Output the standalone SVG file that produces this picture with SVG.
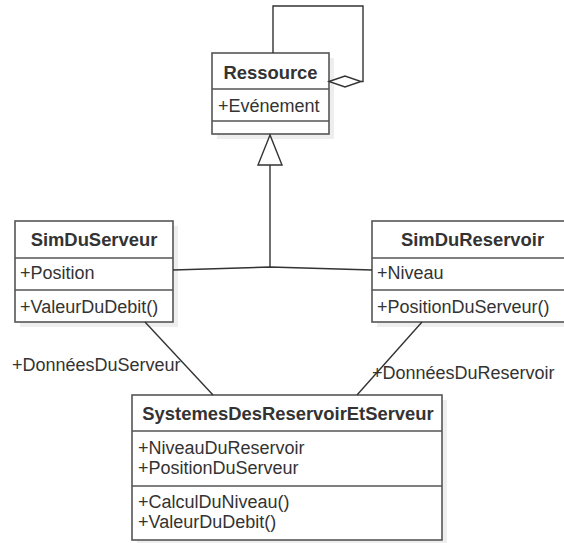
<svg xmlns="http://www.w3.org/2000/svg" width="564" height="543" viewBox="0 0 564 543">
<style>
  .shadow { fill: #eeeeee; stroke: none; }
  .box { fill: #ffffff; stroke: #555555; stroke-width: 1.6; }
  .div { stroke: #555555; stroke-width: 1.6; }
  .title { font-family: "Liberation Sans", Arial, sans-serif; font-size: 18.4px; font-weight: bold; fill: #333333; text-anchor: middle; }
  .txt { font-family: "Liberation Sans", Arial, sans-serif; font-size: 18px; fill: #333333; }
  .edge { fill: none; stroke: #333333; stroke-width: 1.4; }
  .head { fill: #ffffff; stroke: #333333; stroke-width: 1.4; }
</style>
<rect width="564" height="543" fill="#ffffff"/>

<g id="Ressource">
  <rect class="shadow" x="217" y="58" width="117" height="81"/>
  <rect class="box" x="212" y="53" width="117" height="81"/>
  <line class="div" x1="212" y1="89" x2="329" y2="89"/>
  <line class="div" x1="212" y1="121" x2="329" y2="121"/>
  <text class="title" x="270.5" y="79">Ressource</text>
  <text class="txt" x="218" y="112">+Evénement</text>
</g>

<g id="SimDuServeur">
  <rect class="shadow" x="20" y="226" width="158" height="101"/>
  <rect class="box" x="15" y="221" width="158" height="101"/>
  <line class="div" x1="15" y1="258" x2="173" y2="258"/>
  <line class="div" x1="15" y1="290" x2="173" y2="290"/>
  <text class="title" x="94" y="246">SimDuServeur</text>
  <text class="txt" x="20" y="279">+Position</text>
  <text class="txt" x="20" y="313">+ValeurDuDebit()</text>
</g>

<g id="SimDuReservoir">
  <rect class="shadow" x="377" y="226" width="201" height="101"/>
  <rect class="box" x="372" y="221" width="201" height="101"/>
  <line class="div" x1="372" y1="258" x2="573" y2="258"/>
  <line class="div" x1="372" y1="290" x2="573" y2="290"/>
  <text class="title" x="472.5" y="246">SimDuReservoir</text>
  <text class="txt" x="377" y="279">+Niveau</text>
  <text class="txt" x="377" y="313">+PositionDuServeur()</text>
</g>

<g id="SystemesDesReservoirEtServeur">
  <rect class="shadow" x="137" y="400" width="310" height="145"/>
  <rect class="box" x="132" y="395" width="310" height="145"/>
  <line class="div" x1="132" y1="431" x2="442" y2="431"/>
  <line class="div" x1="132" y1="486" x2="442" y2="486"/>
  <text class="title" x="288" y="420">SystemesDesReservoirEtServeur</text>
  <text class="txt" x="138" y="454">+NiveauDuReservoir</text>
  <text class="txt" x="138" y="474">+PositionDuServeur</text>
  <text class="txt" x="138" y="508">+CalculDuNiveau()</text>
  <text class="txt" x="138" y="528">+ValeurDuDebit()</text>
</g>

<g id="connectors">
  <!-- self aggregation on Ressource -->
  <polyline class="edge" points="273,53 273,6 363,6 363,81.5 361,81.5"/>
  <polygon class="head" points="329,81.5 345,76 361,81.5 345,87"/>
  <!-- generalization -->
  <polyline class="edge" points="173,270 270,267 372,270"/>
  <line class="edge" x1="270" y1="267" x2="270" y2="165"/>
  <polygon class="head" points="270,135 258,165 282,165"/>
  <!-- associations -->
  <line class="edge" x1="145" y1="322" x2="213" y2="395"/>
  <text class="txt" x="12" y="371">+DonnéesDuServeur</text>
  <line class="edge" x1="422" y1="322" x2="357" y2="395"/>
  <text class="txt" x="372" y="379">+DonnéesDuReservoir</text>
</g>
</svg>
